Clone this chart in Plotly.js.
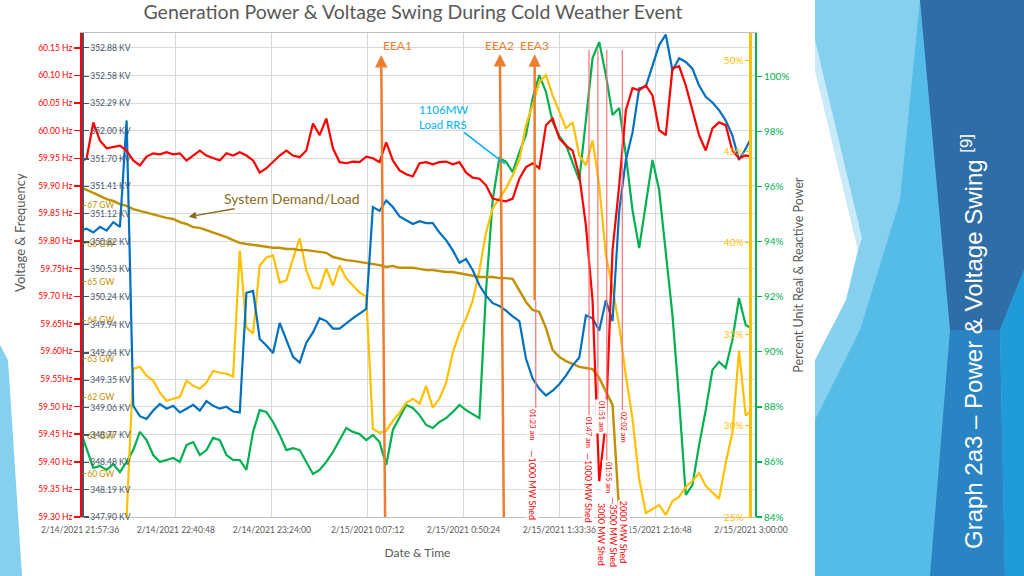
<!DOCTYPE html>
<html><head><meta charset="utf-8">
<script src="https://cdn.plot.ly/plotly-3.0.1.min.js"></script>
<style>
html,body{margin:0;padding:0;background:#fff;}
#wrap{position:relative;width:1024px;height:576px;overflow:hidden;background:#fff;}
#deco{position:absolute;left:0;top:0;}
#chart{position:absolute;left:0;top:0;width:1024px;height:576px;}
</style></head><body>
<div id="wrap">
<svg id="deco" width="1024" height="576">
  <rect x="815" y="0" width="209" height="576" fill="#55BCE8"/>
  <polygon points="815,0 920,0 900,200 860,330 815,420" fill="#85CFEF"/>
  <polygon points="815,40 862,238 858,250 815,70" fill="#C9EAF8"/>
  <polygon points="815,70 858,250 846,300 815,360" fill="#FFFFFF"/>
  <polygon points="920,0 1024,0 1024,270 1000,330 950,330" fill="#2E6DA5"/>
  <polygon points="950,330 1000,330 1005,576 930,576" fill="#2A84C3"/>
  <polygon points="1024,270 1024,576 1005,576 1000,330" fill="#1F9CD8"/>
  <polygon points="0,345 8,360 22,576 0,576" fill="#85CFEF"/>
</svg>
<div id="chart"></div>
</div>
<script>
// ---------- time base ----------
const startMs = Date.UTC(2021, 1, 14, 21, 57, 36);
function atMinute(m) { return new Date(startMs + Math.round(m * 60000)).toISOString().replace('T', ' ').slice(0, 19); }
function onFeb15(hms) { return '2021-02-15 ' + hms; }

// minutes after 2/14/2021 21:57:36
const minutes = [0,3,6,9,12,15,18,21,24,27,30,33,36,39,42,45,48,51,54,57,60,63,66,69,72,75,78,81,84,87,90,93,96,99,102,105,108,111,114,117,120,123,126,129,132,135,138,141,144,147,150,153,156,159,162,165,168,171,174,177,180,183,186,189,192,195,198,201,204,207,210,213,216,219,222,225,228,231,234,237,240,243,246,249,252,255,258,261,264,267,270,273,276,279,282,285,288,291,294,297,300,302.4];

// ---------- series ----------
const frequencyHz = [
 59.943,59.950,60.015,59.982,59.968,59.970,59.973,59.964,59.946,59.937,
 59.953,59.959,59.957,59.961,59.957,59.959,59.946,59.955,59.964,59.955,
 59.950,59.946,59.959,59.955,59.961,59.955,59.946,59.924,59.932,59.943,
 59.955,59.964,59.955,59.952,59.964,60.013,59.992,60.022,59.968,59.943,
 59.941,59.944,59.943,59.953,59.950,59.943,59.979,59.946,59.928,59.921,
 59.917,59.941,59.943,59.939,59.943,59.944,59.939,59.943,59.924,59.915,
 59.913,59.901,59.877,59.874,59.872,59.877,59.913,59.934,59.941,59.932,
 60.010,60.022,59.986,59.973,59.964,59.919,59.828,59.692,59.365,59.474,
 59.783,59.901,60.037,60.077,60.073,60.082,60.064,60.001,59.992,60.113,
 60.117,60.082,60.037,59.992,59.964,60.004,60.015,60.010,59.964,59.950,
 59.955,59.953];

const voltageKV = [
 350.94,350.96,350.92,350.98,350.94,351.03,350.98,352.11,349.08,348.97,
 348.94,349.03,349.10,349.05,349.08,349.01,349.05,349.09,349.03,349.13,
 349.08,349.05,349.07,349.02,349.01,350.28,350.30,349.79,349.72,349.64,
 349.96,349.79,349.60,349.54,349.75,349.86,350.01,349.98,349.90,349.90,
 349.96,350.01,350.06,350.11,351.19,351.15,351.26,351.19,351.09,351.05,
 351.01,351.04,351.02,351.02,350.92,350.84,350.73,350.60,350.64,350.52,
 350.36,350.25,350.17,350.14,350.09,350.03,349.98,349.58,349.37,349.26,
 349.19,349.24,349.31,349.40,349.51,349.59,350.04,350.01,349.88,350.20,
 349.98,351.15,351.69,351.98,352.45,352.47,352.70,352.91,353.02,352.64,
 352.77,352.73,352.66,352.48,352.36,352.30,352.22,352.11,351.95,351.69,
 351.81,351.92];

// system demand/load, GW (ends at the 01:55 shed)
const loadGW = [
 67.45,67.40,67.32,67.24,67.16,67.11,67.03,66.98,66.90,66.85,
 66.80,66.75,66.72,66.67,66.64,66.56,66.51,66.43,66.41,66.35,
 66.30,66.25,66.17,66.09,66.02,65.99,65.96,65.94,65.91,65.89,
 65.89,65.86,65.86,65.83,65.83,65.81,65.78,65.76,65.65,65.60,
 65.57,65.55,65.52,65.50,65.47,65.44,65.39,65.42,65.37,65.37,
 65.37,65.34,65.31,65.31,65.29,65.26,65.26,65.23,65.21,65.18,
 65.13,65.13,65.13,65.10,65.10,65.08,64.79,64.48,64.27,64.22,
 63.80,63.23,63.05,62.94,62.87,62.79,62.76,62.73,62.50,62.14,
 61.80,59.01];

// yellow series (%), starts at minute 21
const yellowPct = [
 24.95,33.11,33.22,
 32.73,32.46,31.80,31.36,31.47,31.58,32.46,32.18,32.02,32.35,
 33.00,32.89,32.84,32.68,39.58,35.36,35.03,38.76,39.20,39.31,
 37.83,37.94,39.14,40.24,38.49,37.55,37.50,38.60,37.66,38.76,
 38.05,37.66,37.28,37.06,29.82,29.61,29.71,30.26,30.70,31.25,
 31.47,31.20,32.18,30.98,31.47,32.35,33.99,35.09,35.86,36.84,
 38.49,40.57,41.89,42.43,42.98,43.70,44.52,46.44,47.53,48.79,
 49.18,48.08,47.15,46.27,46.60,44.79,44.24,45.61,43.15,39.31,
 37.50,35.47,32.73,30.37,27.08,25.22,25.44,25.66,25.11,25.88,
 26.10,26.64,26.97,27.41,26.70,26.32,25.99,27.96,29.61,34.10,
 30.54,30.81];

// green series (%)
const greenPct = [
 87.16,86.50,85.78,85.85,85.71,85.92,85.63,86.00,86.43,87.09,
 86.79,86.25,86.00,86.07,86.14,86.00,86.61,86.72,86.25,86.43,
 86.87,86.79,86.25,86.07,86.07,85.71,87.09,87.88,87.81,87.45,
 86.98,86.43,86.50,86.43,86.00,85.56,85.71,86.00,86.36,86.79,
 87.23,87.09,87.01,86.79,86.98,86.72,85.89,87.16,87.59,88.07,
 87.96,87.70,87.34,87.23,87.45,87.59,87.81,88.07,87.88,87.74,
 87.59,92.24,95.51,97.03,96.89,96.52,97.25,97.87,99.21,100.04,
 99.43,98.34,97.83,97.50,96.89,96.23,98.41,100.66,101.24,100.04,
 98.59,98.85,97.14,95.14,93.76,95.32,96.96,95.87,93.69,91.33,
 88.25,84.80,85.16,86.61,87.88,89.34,89.63,89.41,90.42,91.95,
 90.97,90.86];

// ---------- ticks ----------
const xTickMinutes = [0,43.2,86.4,129.6,172.8,216,259.2,302.4];
const xTickLabels = ['2/14/2021 21:57:36','2/14/2021 22:40:48','2/14/2021 23:24:00','2/15/2021 0:07:12','2/15/2021 0:50:24','2/15/2021 1:33:36','2/15/2021 2:16:48','2/15/2021 3:00:00'];
const hzTicks = [59.30,59.35,59.40,59.45,59.50,59.55,59.60,59.65,59.70,59.75,59.80,59.85,59.90,59.95,60.00,60.05,60.10,60.15];
const hzTickLabels = ['59.30 Hz','59.35 Hz','59.40 Hz','59.45 Hz','59.50 Hz','59.55Hz','59.60Hz','59.65Hz','59.70 Hz','59.75Hz','59.80 Hz','59.85 Hz','59.90 Hz','59.95 Hz','60.00 Hz','60.05 Hz','60.10 Hz','60.15 Hz'];
const kvTicks = [347.90,348.19,348.48,348.77,349.06,349.35,349.64,349.94,350.24,350.53,350.82,351.12,351.41,351.70,352.00,352.29,352.58,352.88];
const kvTickLabels = ['347.90 KV','348.19 KV','348.48 KV','348.77 KV','349.06 KV','349.35 KV','349.64 KV','349.94 KV','350.24 KV','350.53 KV','350.82 KV','351.12 KV','351.41 KV','351.70 KV','352.00 KV','352.29 KV','352.58 KV','352.88 KV'];
const gwTicks = [60,61,62,63,64,65,66,67];
const gwTickLabels = ['60 GW','61 GW','62 GW','63 GW','64 GW','65 GW','66 GW','67 GW'];
const yellowTicks = [25,30,35,40,45,50];
const yellowTickLabels = ['25%','30%','35%','40%','45%','50%'];
const greenTicks = [84,86,88,90,92,94,96,98,100];
const greenTickLabels = ['84%','86%','88%','90%','92%','94%','96%','98%','100%'];

// ---------- events ----------
const eeaLabels = ['EEA1','EEA2','EEA3'];
const eeaTimes = ['00:15:06','01:08:36','01:22:30'];
const shedTimes = ['01:23:00','01:47:00','01:51:00','01:55:00','02:02:00'];
const shedTimeLabels = ['01:23 am','01:47 am','01:51 am','01:55 am','02:02 am'];
const shedAmountLabels = ['—1000 MW Shed','—1000 MW Shed','3000 MW Shed','—3500 MW Shed','2000 MW Shed'];

// ---------- styling / placement (layout only) ----------
const FONT = 'Lato, "Open Sans", sans-serif';
const GRAY = '#595959';
const C = {red:'#FF0000', blue:'#0070C0', gold:'#BF9000', yellow:'#FFC000', green:'#00B050', orange:'#ED7D31', shed:'#FF6F73', kv:'#44546A', rrs:'#00B0F0', load:'#8B6B23'};
const eeaBase = [0, 0, 0.448], eeaRise = [-472, -472, -255], eeaAx = [-4, -4, 0], eeaAnchor = ['left','center','center'], eeaGap = [10, 0, 0];
const shedLineY = [[0.217,0.448],[0.211,0.965],[0.236,0.965],[0.107,0.965],[0.221,0.965]];
const shedTimeY = [0.190,0.176,0.207,0.081,0.186], shedTimeShift = [-3,-1,3,1,1];
const shedAmtY = [0.066,0.060,-0.037,-0.031,-0.031], shedAmtShift = [-3,-1,3,7,2];
const shedAmtBg = ['#FFFFFF','#FFFFFF','rgba(0,0,0,0)','rgba(0,0,0,0)','#FFFFFF'];

const xAll = minutes.map(atMinute);
const traces = [
  {x:xAll, y:greenPct, yaxis:'y', type:'scatter', mode:'lines', line:{color:C.green, width:2.2}, name:'Unit real power %'},
  {x:minutes.slice(7).map(atMinute), y:yellowPct, yaxis:'y2', type:'scatter', mode:'lines', line:{color:C.yellow, width:2.2}, name:'Unit reactive power %'},
  {x:minutes.slice(0, loadGW.length).map(atMinute), y:loadGW, yaxis:'y3', type:'scatter', mode:'lines', line:{color:C.gold, width:2.4}, name:'System Demand/Load'},
  {x:xAll, y:voltageKV, yaxis:'y4', type:'scatter', mode:'lines', line:{color:C.blue, width:2.2}, name:'Voltage'},
  {x:xAll, y:frequencyHz, yaxis:'y5', type:'scatter', mode:'lines', line:{color:C.red, width:2.2}, name:'Frequency'}
];

const annotations = [];
const shapes = [];
eeaLabels.forEach((lab, i) => {
  const t = onFeb15(eeaTimes[i]);
  annotations.push({x:t, y:eeaBase[i], xref:'x', yref:'paper', text:lab, showarrow:true, ax:eeaAx[i], ay:eeaRise[i], xanchor:eeaAnchor[i],
    arrowside:'start', arrowhead:2, startarrowhead:2, startarrowsize:1, arrowwidth:2.5, arrowcolor:C.orange, startstandoff:eeaGap[i],
    font:{size:12, color:C.orange, family:FONT}});
});
shedTimes.forEach((tm, i) => {
  const t = onFeb15(tm);
  shapes.push({type:'line', xref:'x', yref:'paper', x0:t, x1:t, y0:shedLineY[i][0], y1:shedLineY[i][1], line:{color:C.shed, width:1.2}});
  annotations.push({x:t, y:shedTimeY[i], xref:'x', yref:'paper', xanchor:'center', yanchor:'middle', text:shedTimeLabels[i], textangle:90, showarrow:false, xshift:shedTimeShift[i], bgcolor:'#FFFFFF', borderpad:1, font:{size:7.5, color:C.red, family:FONT}});
  annotations.push({x:t, y:shedAmtY[i], xref:'x', yref:'paper', xanchor:'center', yanchor:'middle', text:shedAmountLabels[i], textangle:90, showarrow:false, xshift:shedAmtShift[i], bgcolor:shedAmtBg[i], borderpad:0, font:{size:9, color:C.red, family:FONT}});
});
annotations.push({x:atMinute(49), y:66.7, xref:'x', yref:'y3', text:'System Demand/Load', showarrow:true, ax:103, ay:-18, arrowhead:2, arrowsize:1, arrowwidth:1.5, arrowcolor:C.load, font:{size:14, color:C.load, family:FONT}});
annotations.push({x:atMinute(191.5), y:59.94, xref:'x', yref:'y5', text:'1106MW<br>Load RRS', align:'left', showarrow:true, ax:-61, ay:-47, arrowhead:0, arrowwidth:1.5, arrowcolor:C.rrs, font:{size:11.5, color:C.rrs, family:FONT}});
annotations.push({x:-0.0889, y:0.589, xref:'paper', yref:'paper', text:'Voltage & Frequency', textangle:-90, showarrow:false, xanchor:'center', yanchor:'middle', font:{size:13, color:GRAY, family:FONT}});
annotations.push({x:1.3215, y:0.3616, xref:'paper', yref:'paper', text:'Graph 2a3 – Power & Voltage Swing <sup>[9]</sup>', textangle:-90, showarrow:false, xanchor:'center', yanchor:'middle', font:{size:24, color:'#FFFFFF', family:'"Liberation Sans", Arial, sans-serif'}});

const layout = {
  width:1024, height:576,
  margin:{l:80, r:269, t:33, b:59, autoexpand:false},
  paper_bgcolor:'rgba(0,0,0,0)', plot_bgcolor:'#FFFFFF',
  showlegend:false,
  font:{family:FONT, color:GRAY},
  title:{text:'Generation Power & Voltage Swing During Cold Weather Event', font:{size:19.5, color:GRAY, family:FONT}, x:0.4033, xref:'container', xanchor:'center', y:0.979, yref:'container', yanchor:'middle'},
  xaxis:{type:'date', range:[atMinute(0), atMinute(304.2)], tickvals:xTickMinutes.map(atMinute), ticktext:xTickLabels, tickangle:0,
         ticks:'outside', ticklen:5, tickcolor:'rgba(0,0,0,0)',
         showgrid:true, gridcolor:'#D9D9D9', showline:true, linecolor:'#BFBFBF', mirror:true, zeroline:false, automargin:false,
         tickfont:{size:8.5, color:GRAY, family:FONT}, title:{text:'Date & Time', font:{size:12, color:GRAY, family:FONT}, standoff:14}},
  yaxis:{range:[84,101.57], side:'right', anchor:'x', tickvals:greenTicks, ticktext:greenTickLabels, ticks:'outside', ticklen:5, tickwidth:1.5, tickcolor:C.green,
         showline:true, linecolor:C.green, linewidth:2, showgrid:false, zeroline:false, automargin:false,
         tickfont:{size:10, color:C.green, family:FONT}, title:{text:'Percent Unit Real & Reactive Power', font:{size:12.5, color:GRAY, family:FONT}, standoff:6}},
  yaxis2:{range:[25,51.48], overlaying:'y', side:'left', anchor:'free', position:0.9933, tickvals:yellowTicks, ticktext:yellowTickLabels,
          ticks:'outside', ticklen:4, tickcolor:C.yellow, showline:true, linecolor:C.yellow, linewidth:3,
          showgrid:false, zeroline:false, automargin:false, tickfont:{size:10, color:C.yellow, family:FONT}},
  yaxis3:{range:[58.88,71.484], overlaying:'y', side:'right', anchor:'free', position:0.0015, tickvals:gwTicks, ticktext:gwTickLabels,
          ticks:'outside', ticklen:3, tickcolor:C.gold, showline:true, linecolor:C.gold, linewidth:1.5,
          showgrid:false, zeroline:false, automargin:false, tickfont:{size:8.5, color:C.gold, family:FONT}},
  yaxis4:{range:[347.90,353.038], overlaying:'y', side:'right', anchor:'free', position:0.003, tickvals:kvTicks, ticktext:kvTickLabels,
          ticks:'outside', ticklen:5, tickwidth:1.2, tickcolor:C.kv, showline:true, linecolor:C.kv, linewidth:1.5,
          showgrid:false, zeroline:false, automargin:false, tickfont:{size:8.5, color:C.kv, family:FONT}},
  yaxis5:{range:[59.30,60.177], overlaying:'y', side:'left', anchor:'free', position:0, tickvals:hzTicks, ticktext:hzTickLabels,
          ticks:'outside', ticklen:6, tickwidth:1.5, tickcolor:C.red, showline:true, linecolor:C.red, linewidth:1.5,
          showgrid:true, gridcolor:'#D9D9D9', zeroline:false, automargin:false,
          tickfont:{size:8.5, color:C.red, family:FONT}},
  annotations:annotations,
  shapes:shapes
};

Plotly.newPlot('chart', traces, layout, {displayModeBar:false, staticPlot:true});
</script>
</body></html>
